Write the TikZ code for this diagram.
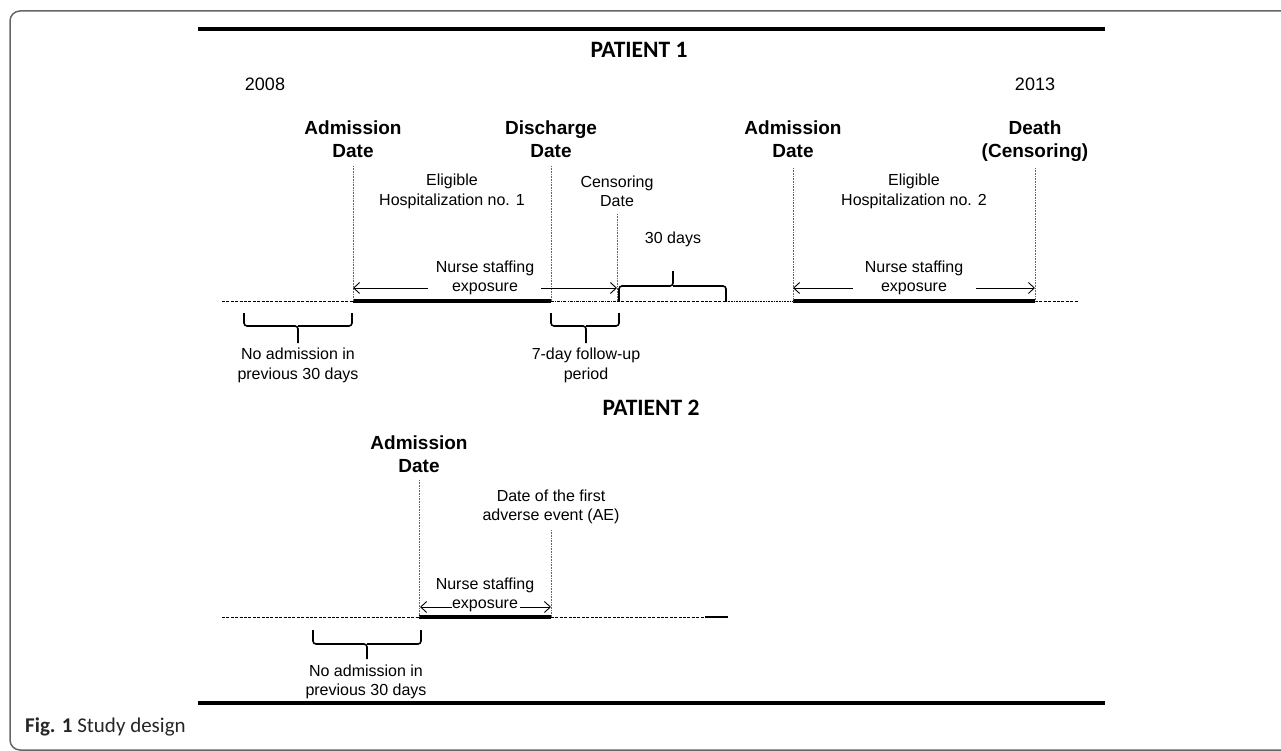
\documentclass[tikz,border=0pt]{standalone}
\usepackage{fontspec}
\setmainfont{Liberation Sans}
\newfontfamily\capfont{Carlito}
\usetikzlibrary{arrows.meta}
\begin{document}
\begin{tikzpicture}[x=1pt,y=-1pt,
  lbl/.style={font=\fontsize{16}{19.5}\selectfont, align=center, inner sep=0pt},
  blbl/.style={font=\fontsize{19}{23}\selectfont\bfseries, align=center, inner sep=0pt, anchor=north},
  yr/.style={font=\fontsize{18}{21}\selectfont, inner sep=0pt},
  ptitle/.style={font=\capfont\fontsize{23.5}{27}\selectfont\bfseries, inner sep=0pt},
  vdot/.style={draw=black!60, line width=0.7pt, dash pattern=on 0.7pt off 0.9pt},
  heavy/.style={line width=4pt},
  dashline/.style={line width=0.8pt, dash pattern=on 3pt off 1.4pt},
  dashdotline/.style={line width=0.8pt, dash pattern=on 3pt off 1.2pt on 0.8pt off 1.2pt},
  dotline/.style={line width=0.8pt, dash pattern=on 0.8pt off 0.8pt},
  arr/.style={line width=0.9pt, -{Straight Barb[length=6pt,width=11pt,line width=0.9pt]}},
  brace/.style={line width=1.6pt, rounded corners=3pt},
  rule/.style={line width=4pt},
]
\useasboundingbox (0,0) rectangle (1281,751);
% frame (open on the right)
\draw[black!60, line width=1.5pt, rounded corners=10pt] (1400,11) -- (10,11) -- (10,750) -- (1400,750);
% rules
\coordinate (rtl) at (198,29); \coordinate (rtr) at (1105,29);
\coordinate (rbl) at (198,703); \coordinate (rbr) at (1105,703);
\draw[rule] (rtl) -- (rtr);
\draw[rule] (rbl) -- (rbr);

%%%%%%%% PATIENT 1
\node[ptitle] (p1) at (639,50) {PATIENT 1};
\node[yr] (y08) at (265,84) {2008};
\node[yr] (y13) at (1035,84) {2013};
\node[blbl] (ad1) at (353,121) {Admission\\Date};
\node[blbl] (dis) at (551,121) {Discharge\\Date};
\node[blbl] (ad2) at (793,121) {Admission\\Date};
\node[blbl] (dth) at (1035,121) {Death\\(Censoring)};
\node[lbl] (el1) at (452,191.5) {Eligible\\Hospitalization no. 1};
\node[lbl] (cen) at (617,191.5) {Censoring\\Date};
\node[lbl] (el2) at (914,191.5) {Eligible\\Hospitalization no. 2};
\node[lbl] (d30) at (673,239) {30 days};
\node[lbl] (ns1) at (485,278) {Nurse staffing\\exposure};
\node[lbl] (ns2) at (914,278) {Nurse staffing\\exposure};
\node[lbl] (na1) at (298,365.5) {No admission in\\previous 30 days};
\node[lbl] (fu7) at (586,365.5) {7-day follow-up\\period};

% timeline points
\coordinate (t0) at (222,301);
\coordinate (tA) at (353,301);
\coordinate (tD) at (551,301);
\coordinate (tC) at (617,301);
\coordinate (tE) at (726,301);
\coordinate (tA2) at (793,301);
\coordinate (tX) at (1035,301);
\coordinate (tend) at (1078,301);
\draw[dashline] (t0) -- (tA);
\draw[heavy] (tA) -- (tD);
\draw[dashdotline] (tD) -- (tC);
\draw[dashline] (tC) -- (tE);
\draw[dotline] (tE) -- (tA2);
\draw[heavy] (tA2) -- (tX);
\draw[dashline] (tX) -- (tend);

% vertical dotted markers
\coordinate (vA) at (353,166);
\coordinate (vD) at (551,166);
\coordinate (vC) at (617,214);
\coordinate (vA2) at (793,168);
\coordinate (vX) at (1035,168);
\draw[vdot] (vA) -- (tA);
\draw[vdot] (vD) -- (tD);
\draw[vdot] (vC) -- (tC);
\draw[vdot] (vA2) -- (tA2);
\draw[vdot] (vX) -- (tX);

% exposure arrows
\coordinate (aA) at (353,288); \coordinate (aAs) at (428,288);
\coordinate (aC) at (617,288); \coordinate (aCs) at (541,288);
\coordinate (aA2) at (793,288); \coordinate (aA2s) at (853,288);
\coordinate (aX) at (1035,288); \coordinate (aXs) at (976,288);
\draw[arr] (aAs) -- (aA);
\draw[arr] (aCs) -- (aC);
\draw[arr] (aA2s) -- (aA2);
\draw[arr] (aXs) -- (aX);

% braces patient 1
\draw[brace] (619,301) -- (619,286) -- (673,286) -- (673,271);
\draw[brace] (726,301) -- (726,286) -- (673,286);
\draw[brace] (244,313) -- (244,326) -- (298,326) -- (298,343);
\draw[brace] (352,313) -- (352,326) -- (298,326);
\draw[brace] (551,313) -- (551,326) -- (586,326) -- (586,343);
\draw[brace] (619,313) -- (619,326) -- (586,326);

%%%%%%%% PATIENT 2
\node[ptitle] (p2) at (651,408) {PATIENT 2};
\node[blbl] (ad3) at (419,436) {Admission\\Date};
\node[lbl] (ae) at (551,507) {Date of the first\\adverse event (AE)};
\node[lbl] (ns3) at (485,595) {Nurse staffing\\exposure};
\node[lbl] (na2) at (366,682) {No admission in\\previous 30 days};

\coordinate (s0) at (222,617);
\coordinate (sA) at (419,617);
\coordinate (sE) at (551,617);
\coordinate (sF) at (705,617);
\coordinate (sG) at (728,617);
\draw[dashline] (s0) -- (sA);
\draw[heavy] (sA) -- (sE);
\draw[dashline] (sE) -- (sF);
\draw[line width=2.5pt] (sF) -- (sG);

\coordinate (wA) at (419,480);
\coordinate (wE) at (551,530);
\draw[vdot] (wA) -- (sA);
\draw[vdot] (wE) -- (sE);

\coordinate (bA) at (420,607); \coordinate (bAs) at (452,607);
\coordinate (bE) at (551,607); \coordinate (bEs) at (520,607);
\draw[arr] (bAs) -- (bA);
\draw[arr] (bEs) -- (bE);

\draw[brace] (313,630) -- (313,644) -- (367,644) -- (367,659);
\draw[brace] (421,630) -- (421,644) -- (367,644);

% caption
\node[anchor=base west, inner sep=0pt, text=black!85] (cap) at (25,732)
  {\capfont\fontsize{21}{25}\selectfont\textbf{Fig. 1} Study design};
\end{tikzpicture}
\end{document}
